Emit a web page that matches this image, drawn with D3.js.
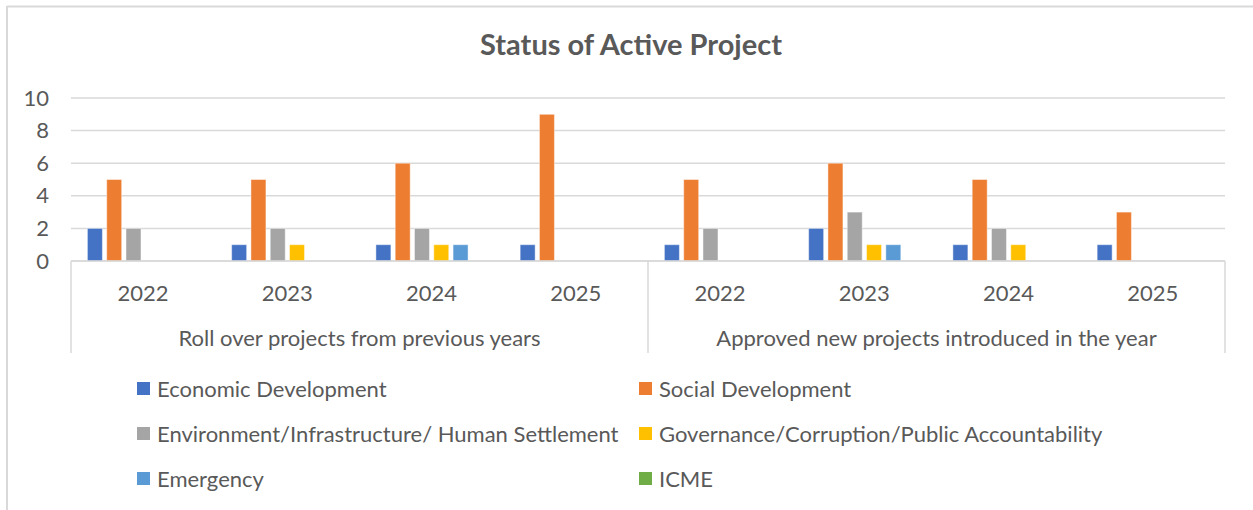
<!DOCTYPE html>
<html>
<head>
<meta charset="utf-8">
<script src="https://cdn.jsdelivr.net/npm/d3@7"></script>
<style>
  body { margin: 0; background: #fff; }
  text { font-family: Lato, "Open Sans", sans-serif; fill: #595959; }
</style>
</head>
<body>
<div id="chart"></div>
<script>
// frame and plot area
const FRAME_WIDTH = 1253;
const FRAME_HEIGHT = 510;
const PLOT = {left: 71, right: 1225, top: 98, bottom: 261};

// data
const GROUPS = ["Roll over projects from previous years", "Approved new projects introduced in the year"];
const YEARS = ["2022", "2023", "2024", "2025"];
const SERIES = ["Economic Development", "Social Development",
                "Environment/Infrastructure/ Human Settlement",
                "Governance/Corruption/Public Accountability",
                "Emergency", "ICME"];
const COLORS = ["#4472C4", "#ED7D31", "#A5A5A5", "#FFC000", "#5B9BD5", "#70AD47"];
// values per series, ordered roll over 2022..2025 then approved 2022..2025
const ECONOMIC    = [2, 1, 1, 1, 1, 2, 1, 1];
const SOCIAL      = [5, 5, 6, 9, 5, 6, 5, 3];
const ENVIRONMENT = [2, 2, 2, 0, 2, 3, 2, 0];
const GOVERNANCE  = [0, 1, 1, 0, 0, 1, 1, 0];
const EMERGENCY   = [0, 0, 1, 0, 0, 1, 0, 0];
const ICME        = [0, 0, 0, 0, 0, 0, 0, 0];
const Y_TICKS = [0, 2, 4, 6, 8, 10];

const VALUES = [ECONOMIC, SOCIAL, ENVIRONMENT, GOVERNANCE, EMERGENCY, ICME];

// categories: one per group/year
const CATS = [];
GROUPS.forEach((g, gi) => YEARS.forEach((y, yi) => CATS.push({group: g, year: y, id: gi + "-" + y})));

const svg = d3.select("#chart")
    .append("svg")
        .attr("width", FRAME_WIDTH)
        .attr("height", FRAME_HEIGHT);

// chart border (top and left only visible)
svg.append("line").attr("x1", 7).attr("x2", FRAME_WIDTH).attr("y1", 6.5).attr("y2", 6.5)
    .attr("stroke", "#d9d9d9").attr("stroke-width", 2);
svg.append("line").attr("x1", 7).attr("x2", 7).attr("y1", 6).attr("y2", FRAME_HEIGHT)
    .attr("stroke", "#d9d9d9").attr("stroke-width", 2);

// scales
const X = d3.scaleBand()
    .domain(CATS.map(d => d.id))
    .range([PLOT.left, PLOT.right])
    .padding(0);

const XS = d3.scaleBand()
    .domain(SERIES)
    .range([0, X.bandwidth()])
    .paddingInner(0.223)
    .paddingOuter(0.85);

const Y = d3.scaleLinear()
    .domain([0, 10])
    .range([PLOT.bottom, PLOT.top]);

// title
svg.append("text")
    .attr("x", 631)
    .attr("y", 55)
    .attr("text-anchor", "middle")
    .attr("font-size", "29px")
    .attr("font-weight", "bold")
    .text("Status of Active Project");

// gridlines
svg.append("g")
    .selectAll("line")
    .data(Y_TICKS)
    .enter()
    .append("line")
        .attr("x1", PLOT.left)
        .attr("x2", PLOT.right)
        .attr("y1", d => Y(d))
        .attr("y2", d => Y(d))
        .attr("stroke", "#d9d9d9")
        .attr("stroke-width", 1.5);

// y axis labels
const yAxis = svg.append("g")
    .attr("transform", "translate(" + (PLOT.left - 22) + ",0)")
    .call(d3.axisLeft(Y).tickValues(Y_TICKS).tickSize(0).tickPadding(0));
yAxis.select(".domain").remove();
yAxis.selectAll("text")
    .attr("font-size", "22px")
    .attr("fill", "#595959")
    .style("font-family", "Lato, sans-serif");

// bars
const barData = [];
CATS.forEach((c, ci) => SERIES.forEach((s, si) => barData.push({cat: c.id, series: s, value: VALUES[si][ci], color: COLORS[si]})));

svg.append("g")
    .selectAll("rect")
    .data(barData.filter(d => d.value > 0))
    .enter()
    .append("rect")
        .attr("x", d => X(d.cat) + XS(d.series))
        .attr("y", d => Y(d.value))
        .attr("width", XS.bandwidth())
        .attr("height", d => Y(0) - Y(d.value))
        .attr("fill", d => d.color)
        .attr("stroke", "rgba(255,255,255,0.45)")
        .attr("stroke-width", 1);

// category axis: baseline and separators
const AXIS_BOTTOM = 353;
svg.append("line")
    .attr("x1", PLOT.left).attr("x2", PLOT.right)
    .attr("y1", PLOT.bottom).attr("y2", PLOT.bottom)
    .attr("stroke", "#d9d9d9").attr("stroke-width", 1.5);

const groupEdges = [PLOT.left, X(CATS[YEARS.length].id), PLOT.right];
svg.append("g")
    .selectAll("line")
    .data(groupEdges)
    .enter()
    .append("line")
        .attr("x1", d => d).attr("x2", d => d)
        .attr("y1", PLOT.bottom).attr("y2", AXIS_BOTTOM)
        .attr("stroke", "#d9d9d9").attr("stroke-width", 1.5);

// year labels
svg.append("g")
    .selectAll("text")
    .data(CATS)
    .enter()
    .append("text")
        .attr("x", d => X(d.id) + X.bandwidth() / 2)
        .attr("y", 301)
        .attr("text-anchor", "middle")
        .attr("font-size", "22px")
        .text(d => d.year);

// group labels
svg.append("g")
    .selectAll("text")
    .data(GROUPS)
    .enter()
    .append("text")
        .attr("x", (d, i) => (groupEdges[i] + groupEdges[i + 1]) / 2)
        .attr("y", 346)
        .attr("text-anchor", "middle")
        .attr("font-size", "22px")
        .text(d => d);

// legend: two columns, three rows
const LEGEND_X = [137, 639];
const LEGEND_Y = [389, 434, 479];
const legend = svg.append("g")
    .selectAll("g")
    .data(SERIES)
    .enter()
    .append("g")
        .attr("transform", (d, i) => "translate(" + LEGEND_X[i % 2] + "," + LEGEND_Y[Math.floor(i / 2)] + ")");

legend.append("rect")
    .attr("x", 0)
    .attr("y", -7)
    .attr("width", 13)
    .attr("height", 13)
    .attr("fill", (d, i) => COLORS[i]);

legend.append("text")
    .attr("x", 20)
    .attr("y", 8)
    .attr("font-size", "22px")
    .text(d => d);
</script>
</body>
</html>
